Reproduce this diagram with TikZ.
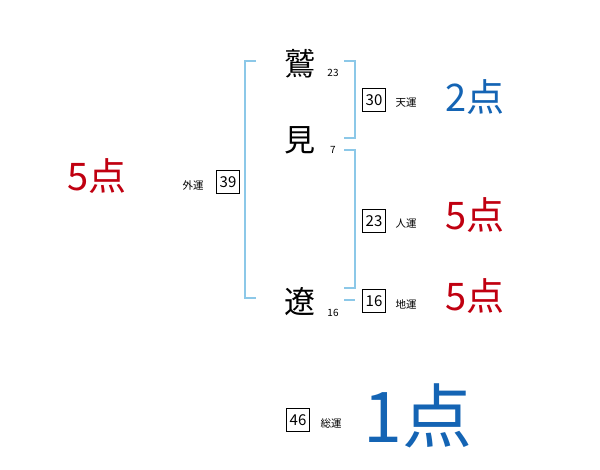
\documentclass[tikz,border=0pt]{standalone}
\usepackage{fontspec}
\newfontfamily\jp{Noto Sans CJK JP}
\definecolor{brk}{HTML}{8CC8E8}
\definecolor{pred}{HTML}{C00010}
\definecolor{pblue}{HTML}{1464B4}
\begin{document}
\begin{tikzpicture}[x=1pt,y=-1pt,
  kan/.style={font=\jp\fontsize{31}{31}\selectfont, inner sep=0},
  stroke/.style={font=\jp\fontsize{10}{10}\selectfont, inner sep=0},
  numbox/.style={draw, line width=0.6pt, minimum width=23pt, minimum height=23pt, inner sep=0, font=\jp\fontsize{15}{15}\selectfont},
  unlab/.style={font=\jp\fontsize{10.5}{10.5}\selectfont, inner sep=0},
  score/.style={font=\jp\fontsize{38}{38}\selectfont, inner sep=0},
  br/.style={draw=brk, line width=1.2pt}]
\useasboundingbox (0,0) rectangle (600,470);
% kanji
\node[kan] (k1) at (300,64) {鷲};
\node[kan] (k2) at (300,140) {見};
\node[kan] (k3) at (300,302) {遼};
\node[stroke] (s1) at (333,73) {23};
\node[stroke] (s2) at (333,150) {7};
\node[stroke] (s3) at (333,313) {16};
% brackets
\coordinate (lt) at (256,61);
\coordinate (lb) at (256,298);
\draw[br] (lt) -- (245,61) -- (245,298) -- (lb);
\draw[br] (344,61) -- (355,61) -- (355,138) -- (344,138);
\draw[br] (344,150) -- (355,150) -- (355,288) -- (344,288);
\draw[br] (344,300) -- (355,300);
% boxes
\node[numbox] (b30) at (374,100) {30};
\node[unlab] (u30) at (406,103) {天運};
\node[numbox] (b23) at (374,221) {23};
\node[unlab] (u23) at (406,224) {人運};
\node[numbox] (b16) at (374,301) {16};
\node[unlab] (u16) at (406,304) {地運};
\node[numbox] (b39) at (228,182) {39};
\node[unlab] (u39) at (193,185) {外運};
\node[numbox] (b46) at (298,420) {46};
\node[unlab] (u46) at (331,423) {総運};
% scores
\node[score, text=pblue] (p1) at (475,97) {2点};
\node[score, text=pred] (p2) at (475,215) {5点};
\node[score, text=pred] (p3) at (475,296) {5点};
\node[score, text=pred] (p4) at (97,176) {5点};
\node[score, text=pblue, font=\jp\fontsize{70}{70}\selectfont] (p5) at (418,416) {1点};
\end{tikzpicture}
\end{document}
